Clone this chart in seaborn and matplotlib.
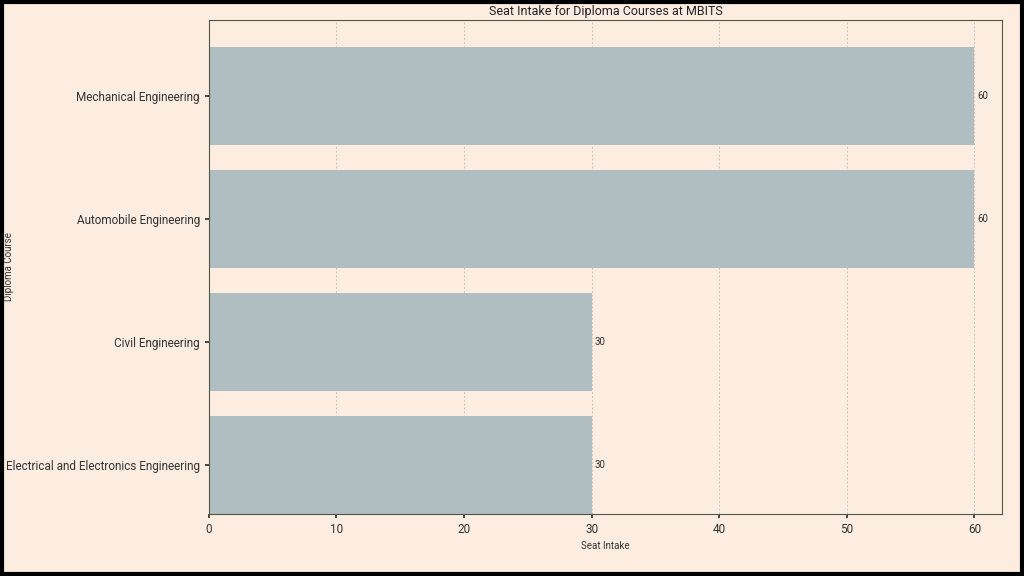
import matplotlib
matplotlib.use("Agg")
import matplotlib.pyplot as plt
import seaborn as sns
import pandas as pd
from matplotlib.patches import Rectangle

courses = ["Mechanical Engineering", "Automobile Engineering", "Civil Engineering",
           "Electrical and Electronics Engineering"]
seats = [60, 60, 30, 30]
df = pd.DataFrame({"Diploma Course": courses, "Seat Intake": seats})

bg = "#fcede0"
sns.set_theme(style="white")
plt.rcParams['font.family'] = ['Roboto', 'DejaVu Sans']

fig = plt.figure(figsize=(10.24, 5.76), dpi=100, facecolor=bg)
ax = fig.add_axes([0.204, 0.108, 0.775, 0.857])
ax.set_facecolor(bg)
sns.barplot(data=df, x="Seat Intake", y="Diploma Course", color="#b0bec2",
            saturation=1, width=0.8, ax=ax, zorder=2, edgecolor="none", linewidth=0)
for c in ax.containers:
    ax.bar_label(c, fmt="%d", padding=2, fontsize=7, color="#333333")
ax.set_xlim(0, 62.2)
ax.set_ylim(3.4, -0.62)
ax.set_xticks([0, 10, 20, 30, 40, 50, 60])
ax.grid(axis="x", linestyle=(0, (2, 2)), color="#d0c0b8", linewidth=0.7, zorder=0)
ax.set_axisbelow(True)
for s in ax.spines.values():
    s.set_color("#555544")
    s.set_linewidth(0.8)
ax.tick_params(axis="both", labelsize=8.5, colors="#333333", length=3, left=True, bottom=True)
ax.set_title("Seat Intake for Diploma Courses at MBITS", fontsize=9, color="#222222", pad=4)
ax.set_xlabel("Seat Intake", fontsize=7, color="#333333", labelpad=4)
ax.set_ylabel("Diploma Course", fontsize=7, color="#333333")
ax.yaxis.set_label_coords(-0.245, 0.5)
fig.patches.append(Rectangle((0.002, 0.003), 0.996, 0.994, transform=fig.transFigure,
                             fill=False, edgecolor="black", linewidth=3))
fig.savefig("out.png", dpi=100, facecolor=bg)
